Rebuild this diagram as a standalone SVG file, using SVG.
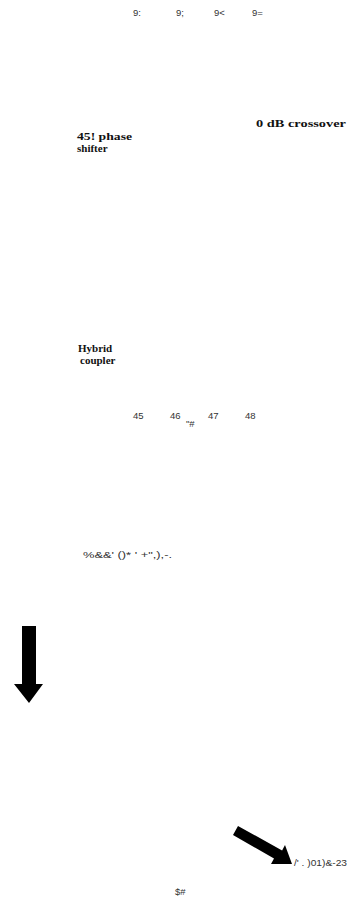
<svg xmlns="http://www.w3.org/2000/svg" width="347" height="899" viewBox="0 0 347 899">
<style>
.n{font-family:"Liberation Sans",Arial,sans-serif;font-size:9.5px;fill:#333}
.b{font-family:"Liberation Serif","Times New Roman",serif;font-size:11px;font-weight:bold;fill:#111}
.a{fill:#000}
</style>
<rect width="347" height="899" fill="#fff"/>
<g id="top-labels">
<text class="n" x="133" y="16">9:</text>
<text class="n" x="176" y="16">9;</text>
<text class="n" x="214" y="16">9&lt;</text>
<text class="n" x="252" y="16">9=</text>
</g>
<g id="crossover"><text class="b" x="256" y="127" textLength="90" lengthAdjust="spacingAndGlyphs">0 dB crossover</text></g>
<g id="phase-shifter"><text class="b" x="77" y="140" textLength="55" lengthAdjust="spacingAndGlyphs">45! phase</text><text class="b" x="77" y="152">shifter</text></g>
<g id="hybrid-coupler"><text class="b" x="78" y="352">Hybrid</text><text class="b" x="80" y="364">coupler</text></g>
<g id="mid-labels">
<text class="n" x="133" y="419">45</text>
<text class="n" x="170" y="419">46</text>
<text class="n" x="208" y="419">47</text>
<text class="n" x="245" y="419">48</text>
<text class="n" x="186" y="427">"#</text>
</g>
<g id="caption"><text class="n" x="83" y="558" textLength="89" lengthAdjust="spacingAndGlyphs">%&amp;&amp;' ()* ' +",),-.</text></g>
<g id="connectors">
<polygon class="a" points="22,626 36,626 36,684 43,684 29,703 14,684 22,684"/>
<polygon class="a" points="238,826 282.1,850.4 285,845 292,864 271,864 274,858.6 233,835"/>
</g>
<g id="out-label"><text class="n" x="294" y="866" textLength="53" lengthAdjust="spacingAndGlyphs">/' . )01)&amp;-23</text></g>
<g id="bottom-label"><text class="n" x="175" y="895">$#</text></g>
</svg>
